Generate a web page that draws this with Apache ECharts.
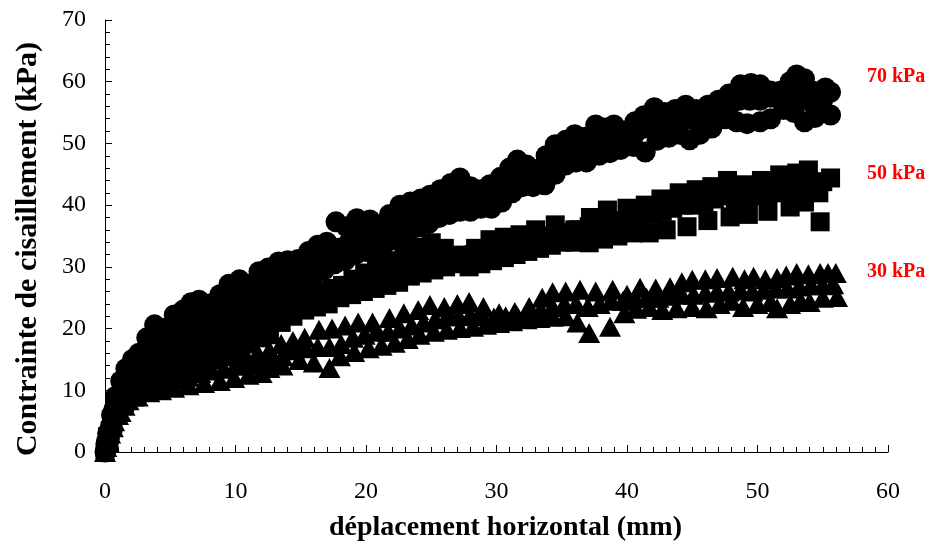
<!DOCTYPE html>
<html>
<head>
<meta charset="utf-8">
<script src="https://cdn.jsdelivr.net/npm/echarts@6/dist/echarts.min.js"></script>
<style>html,body{margin:0;padding:0;background:#fff}#c{width:933px;height:547px}</style>
</head>
<body>
<div id="c"></div>
<script>
// ---- data (x = déplacement horizontal mm, y = contrainte kPa) ----
const xTicks = [0, 10, 20, 30, 40, 50, 60];
const yTicks = [0, 10, 20, 30, 40, 50, 60, 70];
const seriesNames = ['70 kPa', '50 kPa', '30 kPa'];

const s70Upper = [[0,0],[0.2,3],[0.5,6],[0.8,9],[1.2,11.5],[1.6,13.5],[2.1,15],[2.6,16],[3.2,18.5],[3.8,20.6],[4.5,20],[5.3,22.2],[6,23],[6.6,24.2],[7.2,24.6],[8,24],[8.8,25.5],[9.5,27.2],[10.3,27.9],[11,27.2],[11.8,29.2],[12.5,29.8],[13.3,30.8],[14,31],[14.8,31.2],[15.6,32.5],[16.3,33.5],[17,34],[17.7,37.3],[18.5,36.5],[19.3,37.8],[20.3,37.6],[21,36.8],[21.8,38.5],[22.6,40],[23.4,40.5],[24.2,41],[24.9,41.6],[25.7,42.5],[26.5,43.5],[27.2,44.4],[28,43],[28.8,42.5],[29.5,43.3],[30.3,44.5],[31,46],[31.6,47.3],[32.3,46.5],[33,45.5],[33.8,48],[34.5,49.8],[35.3,50.5],[36,51.4],[36.8,51],[37.6,53],[38.3,52.5],[39,53],[39.8,52],[40.6,53.5],[41.3,54.5],[42.1,55.8],[42.9,55],[43.7,55.5],[44.5,56.2],[45.3,55.5],[46.2,56.2],[47,57],[47.8,58],[48.7,59.5],[49.5,59.7],[50.2,59.5],[51,58.5],[51.8,58.5],[52.5,60],[53,61.1],[53.6,60.5],[54.2,58.5],[54.8,58],[55.2,59],[55.6,58.3]];
const s70Mid = [[0.3,2],[0.6,5],[1,8],[1.4,11],[1.9,13],[2.4,14],[3,16],[3.6,17.5],[4.3,18.5],[5,19.5],[5.8,20.5],[6.6,21.5],[7.4,22],[8.2,22.5],[9,23.5],[9.8,24.5],[10.6,25],[11.5,26],[12.3,27.5],[13.1,28],[13.9,28.5],[14.7,29],[15.5,30],[16.3,31],[17.1,32],[17.9,33],[18.7,34],[19.5,35],[20.4,35.5],[21.3,36],[22.2,37],[23,38],[23.8,39],[24.6,39.5],[25.4,40.5],[26.2,41],[27,42],[27.8,41.5],[28.6,41],[29.4,41.5],[30.2,42.5],[31,44],[31.8,45],[32.6,45],[33.4,46],[34.2,47.5],[35,48.5],[35.8,49],[36.6,49.5],[37.4,50.5],[38.2,50.5],[39,51],[39.8,51],[40.6,51.5],[41.4,52.5],[42.2,53],[43,53.5],[43.8,53.5],[44.6,54],[45.4,53.5],[46.2,54.5],[47,55.5],[47.8,56],[48.6,57],[49.4,57],[50.2,57],[51,57.5],[51.8,57],[52.6,58],[53.4,57.5],[54.2,56.5],[55,57]];
const s70Lower = [[0.1,1.5],[0.4,4],[0.7,7],[1.1,9],[1.5,10.5],[2,11.5],[2.6,13],[3.3,14.5],[4,15.5],[4.8,16.5],[5.6,17.5],[6.4,18.5],[7.2,19.5],[8,20],[8.8,21],[9.6,22],[10.4,22.5],[11.2,24.6],[12,25],[12.8,25.5],[13.6,26],[14.4,26.8],[15.2,27.5],[16,28.5],[16.8,29.5],[17.6,30.5],[18.4,31],[19.2,32],[20,32.5],[20.8,33],[21.6,34],[22.4,34.5],[23.2,35.5],[24,36.5],[24.8,37],[25.6,38],[26.4,38.5],[27.2,39],[28,39],[28.8,39.5],[29.6,39.5],[30.4,40.5],[31.2,42],[32,43],[32.8,43],[33.7,43.3],[34.5,45],[35.3,46.5],[36.1,47],[36.9,47],[37.9,48.1],[38.7,48.5],[39.5,49],[40.5,49.5],[41.4,48.6],[42.3,50.5],[43.2,51],[44,51.5],[44.8,50.6],[45.6,51.5],[46.5,52.5],[47.5,54],[48.4,53.5],[49.2,53.2],[50.2,53.5],[51,54],[52,55.5],[52.8,55],[53.6,53.5],[54.4,54.2],[55,55.5],[55.6,54.6]];

const s50Upper = [[0,0],[0.2,2.5],[0.5,5],[0.8,7.5],[1.2,8.5],[1.7,10],[2.3,11.5],[3,13],[3.7,14],[4.5,15.5],[5.3,16.5],[6.1,17],[6.9,18.5],[7.7,19.5],[8.5,20],[9.3,21],[10.1,21.5],[10.9,22.5],[11.7,23],[12.5,23.5],[13.3,24],[14.1,24.6],[14.9,25],[15.7,25.5],[16.5,26],[17.4,26.5],[18.2,27],[19,28],[19.9,29],[20.8,30.3],[21.8,31],[22.9,32.7],[24,33.2],[25,33.9],[26,33],[27.3,31.9],[28.4,33],[29.5,34.4],[30.6,34.8],[31.8,35.2],[33,36],[34.5,36.8],[36,36],[37.2,38],[38.5,39.2],[40,39.5],[41.4,40],[42.6,41],[44,42],[45.3,42.5],[46.5,43],[47.7,44],[49,43.3],[50.3,44],[51.7,44.9],[53,45.2],[53.9,45.7],[55,43.8],[55.6,44.4]];
const s50Mid = [[0.3,2],[0.6,4.5],[1,7],[1.5,8],[2.1,10],[2.8,11.5],[3.5,12.5],[4.3,13.5],[5.1,14.5],[5.9,15.5],[6.7,16],[7.5,17],[8.3,17.5],[9.1,18.5],[9.9,19],[10.7,20],[11.5,20.5],[12.3,21.5],[13.1,22],[13.9,23],[14.7,23.5],[15.5,24],[16.3,25],[17.1,25.5],[17.9,26],[18.7,26.5],[19.5,27.5],[20.3,28],[21.1,28.5],[21.9,29],[22.7,30],[23.5,30.5],[24.3,31],[25.1,31.5],[25.9,31.5],[26.7,31],[27.5,31.5],[28.3,32],[29.1,32.5],[29.9,33],[30.7,33.5],[31.5,34],[32.3,34],[33.1,34.5],[33.9,35],[34.7,35.5],[35.5,35.5],[36.3,36],[37.1,36.5],[37.9,37],[38.7,37.5],[39.5,37.5],[40.3,38],[41.1,38],[41.9,38.5],[42.7,39],[43.5,39.5],[44.3,40],[45.1,40],[45.9,40.5],[46.7,41],[47.5,41.5],[48.3,41],[49.1,41],[49.9,41.5],[50.7,42],[51.5,42],[52.3,42.5],[53.1,42.5],[53.9,43],[54.7,42]];
const s50Lower = [[0.1,1],[0.4,3.5],[0.8,6],[1.3,7.5],[2,9],[2.8,10],[3.6,11],[4.5,12],[5.4,13],[6.3,14],[7.2,14.5],[8.1,15.5],[9,16],[9.9,17],[10.8,17.5],[11.7,18.5],[12.6,19],[13.5,21],[14.4,22],[15.3,23],[16.2,23.5],[17.1,24],[18,25],[18.9,25.5],[19.8,26],[20.7,26.5],[21.6,27],[22.5,27.5],[23.4,28.5],[24.3,29],[25.2,29.5],[26.1,30],[27,30.5],[27.9,30],[28.8,30.5],[29.7,31],[30.6,31.5],[31.5,32],[32.4,32.5],[33.3,33],[34.2,33.5],[35.1,34],[36,34],[37.1,33.9],[38.2,34.5],[39.3,35],[40.5,35.5],[41.7,35.5],[43,36],[44.6,36.5],[46.2,37.5],[47.9,38.1],[49.3,38.5],[50.8,39],[52.5,39.7],[53.6,40.5],[54.8,37.3]];

const s30Upper = [[0,0],[0.2,2.5],[0.5,5],[0.9,7],[1.4,8.5],[2,10],[2.7,11],[3.4,12],[4.2,12.5],[5,13],[5.8,13.5],[6.6,14],[7.4,14.5],[8.2,15],[9,15.5],[9.9,16],[10.8,15.5],[11.7,16],[12.6,16.5],[13.5,17.5],[14.4,18],[15.3,18.5],[16.4,19.8],[17.4,20],[18.4,20.5],[19.4,21],[20.5,21],[21.8,21.7],[22.9,22.5],[24,23],[24.9,23.8],[26,23.5],[27,24],[27.9,24.3],[29,23.5],[30.2,22.5],[31.4,22.7],[32.5,23.5],[33.5,25],[34.3,25.9],[35.3,26],[36.4,26.3],[37.6,26],[38.9,26.3],[40,25.5],[41,26.6],[42.2,26.5],[43.3,26.7],[44.2,27.5],[45,27.9],[46,28],[46.9,28.2],[48.1,28.4],[49,28],[49.7,28.4],[50.6,28],[51.5,28.2],[52.2,28.6],[53,29],[53.9,28.8],[54.8,29],[55.4,29],[56,29]];
const s30Mid = [[0.3,1.5],[0.6,4],[1,6],[1.5,7.5],[2.2,9],[2.9,10],[3.7,10.8],[4.6,11.2],[5.5,11.8],[6.4,12.2],[7.3,12.8],[8.2,13.2],[9.1,13.5],[10,14],[10.9,14],[11.8,14.5],[12.7,15],[13.6,15.5],[14.5,16.5],[15.4,16.8],[16.3,17],[17.2,17],[18.1,17.5],[19,18.5],[19.9,19],[20.8,19.5],[21.7,19.5],[22.6,20],[23.5,20.5],[24.4,21],[25.3,21.5],[26.2,22],[27.1,22],[28,22.2],[28.9,22],[29.8,21.8],[30.7,22],[31.6,22],[32.5,22.5],[33.4,23],[34.3,23.5],[35.2,24],[36.1,24],[37,23.5],[37.9,24],[38.8,24.5],[39.7,24.5],[40.6,25],[41.5,25],[42.4,25],[43.3,25.3],[44.2,25.5],[45.1,25.5],[46,25.8],[46.9,26],[47.8,26],[48.7,26.2],[49.6,26],[50.5,26.3],[51.4,26.5],[52.3,26.5],[53.2,26.8],[54.1,27],[55,27],[55.8,27.2]];
const s30Lower = [[0.1,0.8],[0.4,3],[0.7,5],[1.2,6.5],[1.8,8.4],[2.5,9],[3.4,9.7],[4.3,10],[5.3,10.4],[6.4,10.8],[7.6,11.2],[8.8,11.5],[9.9,12],[11,12.5],[12,12.8],[12.6,13.6],[13.6,14],[14.9,14.9],[16,14.5],[17.2,13.6],[18,15.5],[19.1,16.2],[20.2,16.8],[21.2,17.2],[22.2,17.7],[23.2,18.3],[24.1,19],[25.2,19.5],[26.2,19.8],[27.2,20.1],[28.2,20.3],[29.2,20.6],[30.2,20.9],[31.2,21.2],[32.3,21.5],[33.3,21.7],[34.3,21.9],[35.3,22],[36.2,21],[37.1,19.3],[38.7,20.3],[39.8,22.5],[40.7,23.2],[41.7,23.5],[42.7,23],[43.8,23.3],[45,23.5],[46.1,23.3],[47.1,24],[48,24.5],[48.9,23.5],[50,24],[51,24.3],[51.5,23.3],[52.5,24],[53.3,24.5],[54,24.3],[55,25],[56.1,25.1]];

// ---- chart ----
const serif = '"Liberation Serif", "DejaVu Serif", serif';
const chart = echarts.init(document.getElementById('c'), null, {renderer: 'canvas'});

function axisCommon(extra) {
  return Object.assign({
    axisLine: {show: true, onZero: false, lineStyle: {color: '#000', width: 1}},
    axisTick: {show: true, inside: true, length: 7, lineStyle: {color: '#000', width: 1}},
    splitLine: {show: false},
    minorSplitLine: {show: false},
    nameLocation: 'middle'
  }, extra);
}

const option = {
  animation: false,
  backgroundColor: '#fff',
  grid: {left: 105, right: 45, top: 20, bottom: 95, containLabel: false},
  xAxis: axisCommon({
    type: 'value', min: xTicks[0], max: xTicks[xTicks.length - 1], interval: 10,
    name: 'déplacement horizontal (mm)', nameGap: 62,
    nameTextStyle: {fontFamily: serif, fontWeight: 'bold', fontSize: 28, color: '#000', padding: [0, 0, 0, 18]},
    minorTick: {show: true, splitNumber: 10, length: 5, lineStyle: {color: '#000', width: 1}},
    axisLabel: {fontFamily: serif, fontSize: 24, color: '#000', margin: 28}
  }),
  yAxis: axisCommon({
    type: 'value', min: yTicks[0], max: yTicks[yTicks.length - 1], interval: 10,
    name: 'Contrainte de cisaillement (kPa)', nameGap: 62,
    nameTextStyle: {fontFamily: serif, fontWeight: 'bold', fontSize: 30, color: '#000', padding: [0, 26, 0, 0]},
    minorTick: {show: true, splitNumber: 5, length: 5, lineStyle: {color: '#000', width: 1}},
    axisLabel: {fontFamily: serif, fontSize: 24, color: '#000', margin: 19}
  }),
  series: [
    {name: seriesNames[2], type: 'scatter', symbol: 'triangle', symbolSize: [22, 20],
     itemStyle: {color: '#000', opacity: 1}, data: s30Upper.concat(s30Mid, s30Lower), clip: false},
    {name: seriesNames[1], type: 'scatter', symbol: 'rect', symbolSize: 19,
     itemStyle: {color: '#000', opacity: 1}, data: s50Upper.concat(s50Mid, s50Lower), clip: false},
    {name: seriesNames[0], type: 'scatter', symbol: 'circle', symbolSize: 21,
     itemStyle: {color: '#000', opacity: 1}, data: s70Upper.concat(s70Mid, s70Lower), clip: false}
  ],
  graphic: [
    {type: 'text', left: 867, top: 67, style: {text: seriesNames[0], fill: '#ff0000', font: 'bold 20px ' + serif}},
    {type: 'text', left: 867, top: 164, style: {text: seriesNames[1], fill: '#ff0000', font: 'bold 20px ' + serif}},
    {type: 'text', left: 867, top: 262, style: {text: seriesNames[2], fill: '#ff0000', font: 'bold 20px ' + serif}}
  ]
};
chart.setOption(option);
</script>
</body>
</html>
